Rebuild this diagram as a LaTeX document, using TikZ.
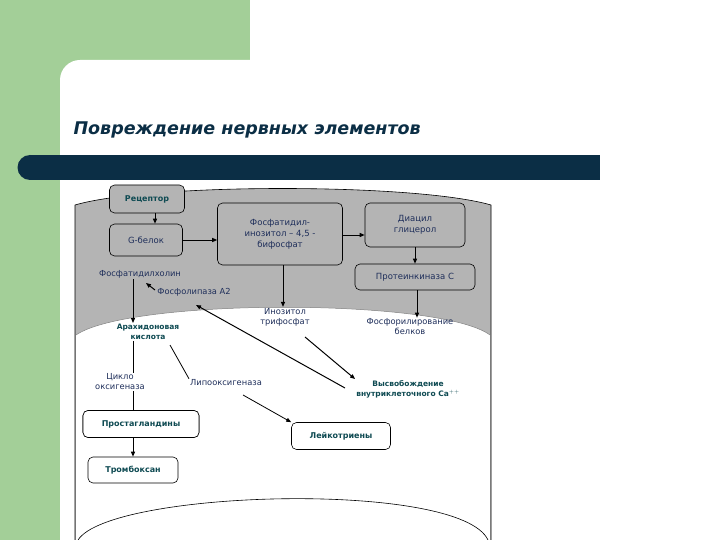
\documentclass[tikz,border=0pt]{standalone}
\usepackage{fontspec}
\setmainfont{DejaVu Sans}
\usetikzlibrary{arrows.meta}
\definecolor{grn}{HTML}{A3CF98}
\definecolor{bar}{HTML}{0B2E45}
\definecolor{gr}{HTML}{B4B4B4}
\definecolor{tl}{HTML}{0E4A52}
\definecolor{bl}{HTML}{1E2E5A}
\begin{document}
\begin{tikzpicture}[x=1pt,y=-1pt,
 bx/.style={draw,rounded corners=5pt,fill=gr,line width=0.6pt,align=center,font=\fontsize{8.5}{11}\selectfont,text=bl},
 wbx/.style={draw,rounded corners=5pt,fill=white,line width=0.6pt,align=center,font=\bfseries\fontsize{8}{10}\selectfont,text=tl},
 lbl/.style={align=center,font=\fontsize{8.3}{10}\selectfont,text=bl,inner sep=1pt},
 blbl/.style={align=center,font=\bfseries\fontsize{7.5}{10}\selectfont,text=tl,inner sep=1pt},
 ar/.style={-{Triangle[length=5pt,width=4pt]},line width=1pt}]
\useasboundingbox (0,0) rectangle (720,540);
\fill[white] (0,0) rectangle (720,540);
\fill[grn] (0,0) rectangle (250,100);
\fill[grn] (0,0) rectangle (60,540);
\fill[white,rounded corners=20pt] (60,60) rectangle (740,560);
\node[anchor=west,font=\bfseries\itshape\fontsize{17.5}{20}\selectfont,text=bar] (title) at (70,130) {Повреждение нервных элементов};
\fill[bar] (30,155) rectangle (600,180);
\fill[bar] (30,167.5) circle (12.5);
% cylinder
\fill[gr] (75,540) -- (75,205) .. controls (150,183) and (415,183) .. (491,205) -- (491,540) -- cycle;
\fill[white] (76,540) -- (76,335) .. controls (130,298) and (440,298) .. (490,335) -- (490,540) -- cycle;
\draw[line width=0.6pt] (75,540) -- (75,205) .. controls (150,183) and (415,183) .. (491,205) -- (491,540);
\draw[line width=0.5pt,gray] (76,335) .. controls (130,298) and (440,298) .. (490,335);
\draw[line width=0.6pt] (78,540) .. controls (110,490) and (460,480) .. (488,540);
% nodes
\node[bx,minimum width=75,minimum height=28,font=\bfseries\fontsize{8}{10}\selectfont,text=tl] (rec) at (147,199) {Рецептор};
\node[bx,minimum width=73,minimum height=32] (g) at (146,240) {G-белок};
\node[bx,minimum width=125,minimum height=62] (fi) at (280,234) {Фосфатидил-\\инозитол – 4,5 -\\бифосфат};
\node[bx,minimum width=100,minimum height=44] (dg) at (415,225) {Диацил\\глицерол};
\node[bx,minimum width=120,minimum height=26] (pk) at (415,277) {Протеинкиназа С};
\node[lbl] (fh) at (140,274) {Фосфатидилхолин};
\node[lbl] (fa) at (194,292) {Фосфолипаза А2};
\node[lbl] (it) at (285,317) {Инозитол\\трифосфат};
\node[lbl] (fb) at (410,327) {Фосфорилирование\\белков};
\node[blbl] (ak) at (148,332) {Арахидоновая\\кислота};
\node[lbl] (co) at (120,382) {Цикло\\оксигеназа};
\node[lbl] (lo) at (226,383) {Липооксигеназа};
\node[blbl] (vc) at (408,389) {Высвобождение\\внутриклеточного Са$^{++}$};
\node[wbx,minimum width=116,minimum height=27] (pg) at (141,424) {Простагландины};
\node[wbx,minimum width=90,minimum height=26] (tb) at (133,470) {Тромбоксан};
\node[wbx,minimum width=99,minimum height=27] (lt) at (341,436) {Лейкотриены};
% arrows
\draw[ar] (rec.south -| 155,0) -- (g.north -| 155,0);
\draw[ar] (g.east) -- (fi.west |- g.east);
\draw[ar] (fi.east |- 0,235) -- (dg.west |- 0,235);
\draw[ar] (dg.south) -- (pk.north -| dg.south);
\draw[ar] (pk.south -| 417,0) -- (fb.north -| 417,0);
\draw[ar] (fi.south -| 283,0) -- (it.north -| 283,0);
\draw[ar] (fh.south -| 133,0) -- (ak.north -| 133,0);
\draw[ar] (155,290) -- (146,283);
\draw[line width=1pt] (ak.south -| 133,0) -- (co.north -| 133,0);
\draw[ar] (co.south -| 133,0) -- (tb.north -| 133,0);
\node[wbx,minimum width=116,minimum height=27] at (pg) {Простагландины};
\draw[line width=0.8pt] (170,345) -- (lo.north west);
\draw[ar,line width=0.8pt] (243,395) -- (lt.north west);
\draw[ar] (305,337) -- (vc.north west);
\draw[ar] (345,388) -- (196,305);
\end{tikzpicture}
\end{document}
